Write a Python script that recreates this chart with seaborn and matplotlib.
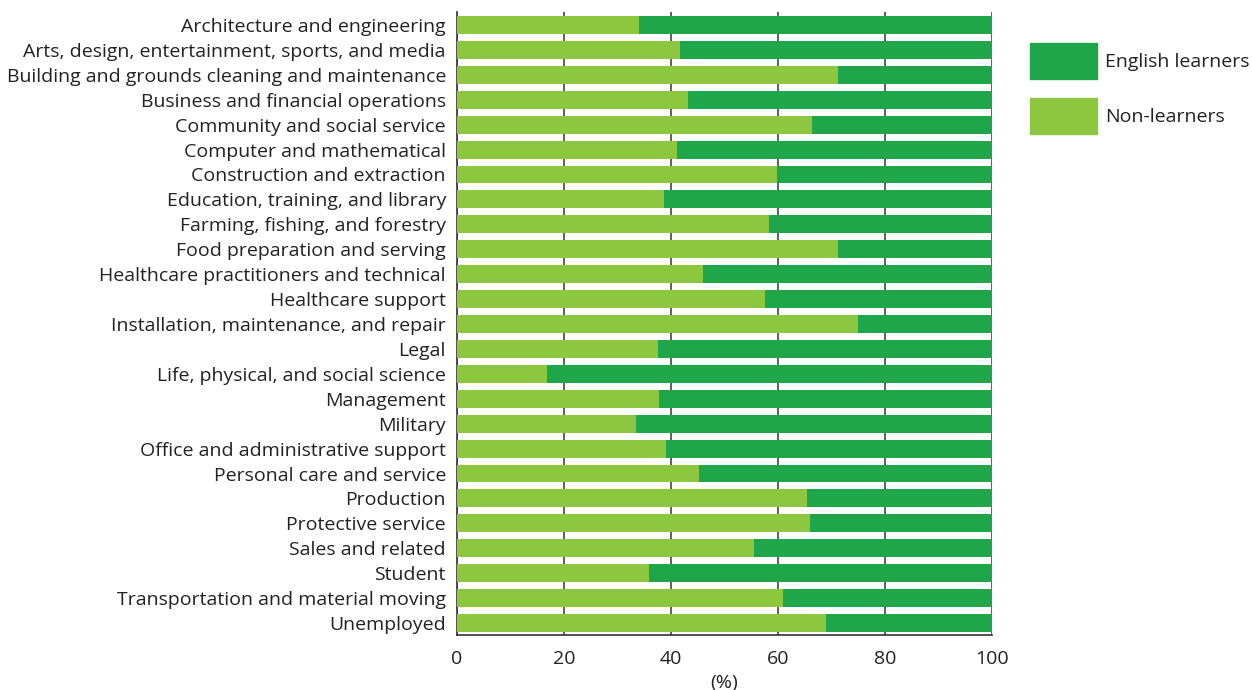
import pandas as pd
import matplotlib
matplotlib.use('Agg')
import matplotlib.pyplot as plt
import seaborn as sns
from matplotlib.patches import Patch

# occupations, top to bottom
occupations = [
    'Architecture and engineering',
    'Arts, design, entertainment, sports, and media',
    'Building and grounds cleaning and maintenance',
    'Business and financial operations',
    'Community and social service',
    'Computer and mathematical',
    'Construction and extraction',
    'Education, training, and library',
    'Farming, fishing, and forestry',
    'Food preparation and serving',
    'Healthcare practitioners and technical',
    'Healthcare support',
    'Installation, maintenance, and repair',
    'Legal',
    'Life, physical, and social science',
    'Management',
    'Military',
    'Office and administrative support',
    'Personal care and service',
    'Production',
    'Protective service',
    'Sales and related',
    'Student',
    'Transportation and material moving',
    'Unemployed',
]
# share of non-learners (%), english learners = remainder
non_learners = [34.1, 41.6, 71.3, 43.1, 66.4, 41.2, 59.9, 38.6, 58.3, 71.3,
                45.9, 57.5, 74.9, 37.5, 16.8, 37.7, 33.4, 39.0, 45.2, 65.5,
                65.9, 55.6, 35.8, 61.0, 68.9]
english_learners = [100 - v for v in non_learners]

dark_green = '#1fa64a'
light_green = '#8dc63f'

df = pd.DataFrame({'occupation': occupations,
                   'non': non_learners,
                   'eng': english_learners})
df['total'] = df['non'] + df['eng']

sns.set_style('white')
plt.rcParams['font.family'] = ['Open Sans', 'DejaVu Sans']

fig = plt.figure(figsize=(12.52, 6.9), dpi=100)
ax = fig.add_axes([457 / 1252, 1 - 635 / 690, (992 - 457) / 1252, (635 - 12) / 690])

sns.barplot(data=df, y='occupation', x='total', color=dark_green, width=0.72,
            orient='h', saturation=1, linewidth=0, ax=ax, zorder=2)
sns.barplot(data=df, y='occupation', x='non', color=light_green, width=0.72,
            orient='h', saturation=1, linewidth=0, ax=ax, zorder=3)

ax.set_xlim(0, 100)
ax.set_ylim(24.48, -0.52)
ax.set_xticks([0, 20, 40, 60, 80, 100])
ax.grid(axis='x', color='#444444', linewidth=1.2, zorder=0)
ax.set_axisbelow(True)
for s in ['top', 'right']:
    ax.spines[s].set_visible(False)
for s in ['left', 'bottom']:
    ax.spines[s].set_color('#333333')
    ax.spines[s].set_linewidth(1.2)
ax.tick_params(axis='y', length=0, labelsize=14, pad=8, colors='#222222')
ax.tick_params(axis='x', length=0, labelsize=14, pad=11, colors='#222222')
ax.set_ylabel('')
ax.set_xlabel('(%)', fontsize=14, color='#222222', labelpad=4)

handles = [Patch(color=dark_green, label='English learners'),
           Patch(color=light_green, label='Non-learners')]
fig.legend(handles=handles, loc='upper left', bbox_to_anchor=(1030 / 1252, 1 - 43 / 690),
           frameon=False, fontsize=14, handlelength=3.45, handleheight=2.5,
           handletextpad=0.4, labelspacing=0.95, borderaxespad=0, borderpad=0,
           labelcolor='#222222')

fig.savefig('out.png', dpi=100)
